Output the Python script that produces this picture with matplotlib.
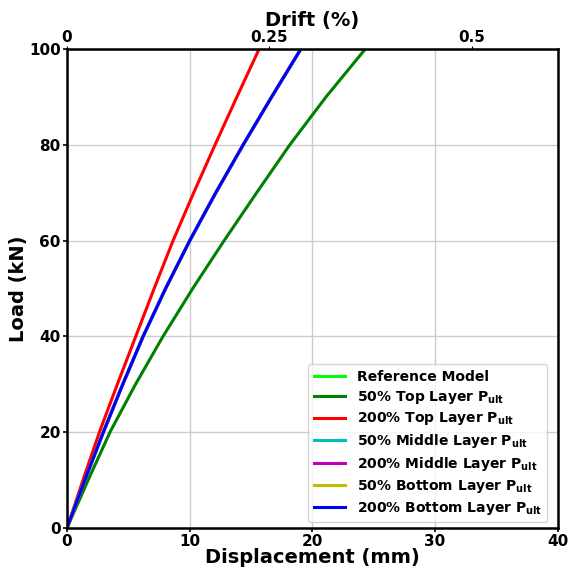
import numpy as np
import matplotlib
matplotlib.use('Agg')
import matplotlib.pyplot as plt

plt.rcParams['font.family'] = ['DejaVu Sans']
plt.rcParams['font.weight'] = 'bold'
plt.rcParams['mathtext.default'] = 'bf'

# load levels (kN) and displacements (mm)
load = [0, 10, 20, 30, 40, 50, 60, 70, 80, 90, 100]
disp_ref = [0, 1.45, 2.96, 4.54, 6.2, 8.03, 10.0, 12.12, 14.35, 16.67, 19.05]
disp_top50 = [0, 1.72, 3.5, 5.58, 7.82, 10.24, 12.8, 15.45, 18.15, 21.1, 24.3]
disp_top200 = [0, 1.3, 2.64, 4.1, 5.6, 7.1, 8.64, 10.32, 12.06, 13.84, 15.65]
disp_mid50 = disp_ref
disp_mid200 = disp_ref
disp_bot50 = disp_ref
disp_bot200 = disp_ref

labels = ['Reference Model',
          r'50% Top Layer P$_{ult}$',
          r'200% Top Layer P$_{ult}$',
          r'50% Middle Layer P$_{ult}$',
          r'200% Middle Layer P$_{ult}$',
          r'50% Bottom Layer P$_{ult}$',
          r'200% Bottom Layer P$_{ult}$']
colors = ['lime', 'green', 'red', 'c', 'm', 'y', 'blue']
series = [disp_ref, disp_top50, disp_top200, disp_mid50, disp_mid200, disp_bot50, disp_bot200]

height_mm = 6600.0  # drift = displacement / height

fig = plt.figure(figsize=(5.68, 5.72), dpi=100)
ax = fig.add_axes([0.118, 0.077, 0.864, 0.837])

for d, c, lab in zip(series, colors, labels):
    ax.plot(d, load, color=c, lw=2.2, label=lab)

ax.set_xlim(0, 40)
ax.set_ylim(0, 100)
ax.set_xticks([0, 10, 20, 30, 40])
ax.set_yticks([0, 20, 40, 60, 80, 100])
ax.grid(True, color='#cccccc', lw=1)
ax.tick_params(labelsize=11, width=1.2, length=3, pad=1.5)
for s in ax.spines.values():
    s.set_linewidth(1.8)
ax.set_xlabel('Displacement (mm)', fontsize=14, fontweight='bold', labelpad=-1)
ax.set_ylabel('Load (kN)', fontsize=14, fontweight='bold', labelpad=1)

sec = ax.secondary_xaxis('top', functions=(lambda x: x / height_mm * 100,
                                           lambda p: p * height_mm / 100))
sec.set_xticks([0, 0.25, 0.5])
sec.set_xticklabels(['0', '0.25', '0.5'])
sec.tick_params(labelsize=11, length=2, pad=1)
sec.set_xlabel('Drift (%)', fontsize=14, fontweight='bold', labelpad=3)

ax.legend(loc='lower right', bbox_to_anchor=(0.99, 0.0), handlelength=2.3,
          borderaxespad=0.4, labelspacing=0.35,
          prop={'weight': 'bold', 'size': 10})

fig.savefig('out.png', dpi=100)
